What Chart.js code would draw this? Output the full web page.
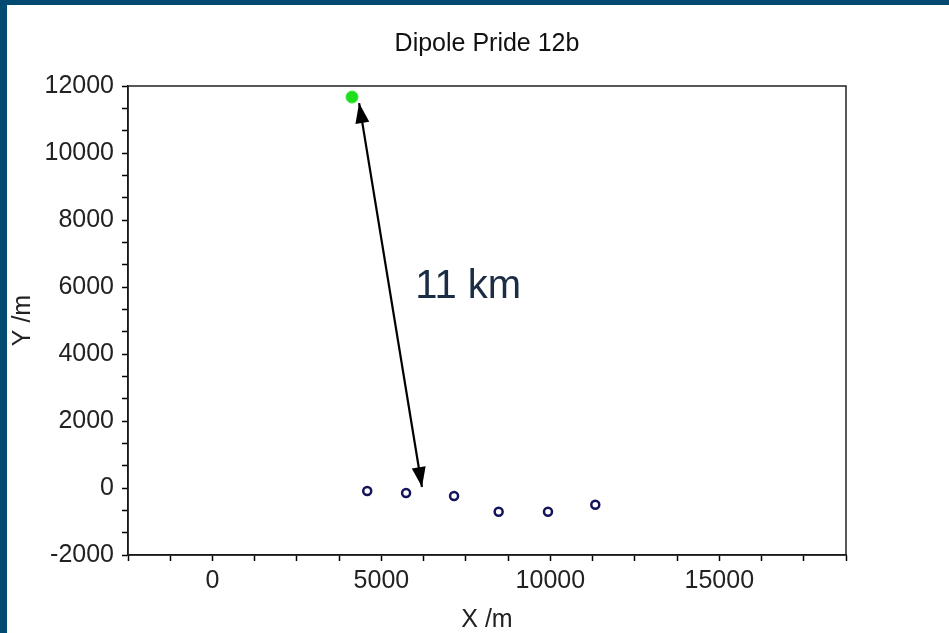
<!DOCTYPE html>
<html>
<head>
<meta charset="utf-8">
<title>Dipole Pride 12b</title>
<script src="https://cdn.jsdelivr.net/npm/chart.js@4.4.0/dist/chart.umd.min.js"></script>
<style>
  html, body { margin: 0; padding: 0; background: #014b73; overflow: hidden; }
  #frame { position: absolute; left: 7px; top: 5px; width: 942px; height: 628px; background: #fff; }
</style>
</head>
<body>
<div id="frame"><canvas id="dipoleChart"></canvas></div>
<script>
// chart text
const chartTitle = 'Dipole Pride 12b';
const xLabel = 'X /m';
const yLabel = 'Y /m';

// axis ranges (metres)
const xMin = -2500, xMax = 18750;
const yMin = -2000, yMax = 12000;

// source position (green dot)
const sourceX = [4130];
const sourceY = [11670];

// receiver positions (open markers)
const receiverX = [4580, 5730, 7150, 8470, 9930, 11330];
const receiverY = [-90, -150, -240, -710, -710, -500];

// distance arrow and its note
const arrowX = [4340, 6200];
const arrowY = [11490, 30];
const noteText = '11 km';
const noteX = 6000;
const noteY = 5670;

const fontFamily = "'Liberation Sans', Arial, sans-serif";
const axisFont = { family: fontFamily, size: 25, lineHeight: 1 };

function toPoints(xs, ys) {
  return xs.map((x, i) => ({ x: x, y: ys[i] }));
}

function drawHead(ctx, from, to) {
  const ang = Math.atan2(to.y - from.y, to.x - from.x);
  const len = 20, half = 7;
  ctx.beginPath();
  ctx.moveTo(to.x, to.y);
  ctx.lineTo(to.x - len * Math.cos(ang) + half * Math.sin(ang), to.y - len * Math.sin(ang) - half * Math.cos(ang));
  ctx.lineTo(to.x - len * Math.cos(ang) - half * Math.sin(ang), to.y - len * Math.sin(ang) + half * Math.cos(ang));
  ctx.closePath();
  ctx.fill();
}

const plotExtras = {
  id: 'plotExtras',
  beforeDatasetsDraw(chart) {
    const { ctx, chartArea: a } = chart;
    ctx.save();
    ctx.strokeStyle = '#222';
    ctx.lineWidth = 1.5;
    ctx.strokeRect(a.left, a.top, a.right - a.left, a.bottom - a.top);
    // title centred over the plot box
    ctx.fillStyle = '#111';
    ctx.font = '25px ' + fontFamily;
    ctx.textAlign = 'center';
    ctx.textBaseline = 'middle';
    ctx.fillText(chartTitle, (a.left + a.right) / 2, 39);
    ctx.restore();
  },
  afterDatasetsDraw(chart) {
    const ctx = chart.ctx;
    const pts = chart.getDatasetMeta(0).data;
    ctx.save();
    ctx.fillStyle = '#000';
    drawHead(ctx, pts[1], pts[0]);
    drawHead(ctx, pts[0], pts[1]);
    // distance note
    ctx.fillStyle = '#1b2d44';
    ctx.font = '40px ' + fontFamily;
    ctx.textBaseline = 'alphabetic';
    ctx.fillText(noteText, chart.scales.x.getPixelForValue(noteX), chart.scales.y.getPixelForValue(noteY));
    ctx.restore();
  }
};

new Chart(document.getElementById('dipoleChart'), {
  type: 'scatter',
  data: {
    datasets: [
      {
        label: 'distance',
        data: toPoints(arrowX, arrowY),
        showLine: true,
        borderColor: '#000',
        borderWidth: 2.2,
        pointRadius: 0
      },
      {
        label: 'source',
        data: toPoints(sourceX, sourceY),
        pointRadius: 6,
        backgroundColor: '#1ede1e',
        borderColor: '#3be63b',
        borderWidth: 1
      },
      {
        label: 'receivers',
        data: toPoints(receiverX, receiverY),
        pointRadius: 4,
        backgroundColor: '#fff',
        borderColor: '#14145a',
        borderWidth: 2.5
      }
    ]
  },
  options: {
    responsive: true,
    maintainAspectRatio: false,
    animation: false,
    layout: { padding: { left: 0, right: 103, top: 81, bottom: 0 } },
    plugins: {
      legend: { display: false },
      tooltip: { enabled: false },
      title: { display: false }
    },
    scales: {
      x: {
        type: 'linear',
        min: xMin,
        max: xMax,
        ticks: {
          stepSize: 1250,
          autoSkip: false,
          maxRotation: 0,
          color: '#222',
          font: axisFont,
          padding: 8,
          callback: v => (v % 5000 === 0 ? String(v) : '')
        },
        grid: { drawOnChartArea: false, color: '#000', tickLength: 6, tickWidth: 1.5 },
        border: { color: '#000', width: 1.5 },
        title: { display: true, text: xLabel, color: '#222', font: axisFont, padding: { top: 0, bottom: 0 } },
        afterFit(s) { s.height = 78; }
      },
      y: {
        type: 'linear',
        min: yMin,
        max: yMax,
        ticks: {
          stepSize: 2000 / 3,
          autoSkip: false,
          color: '#222',
          font: axisFont,
          padding: 8,
          callback: v => (Math.abs(v / 2000 - Math.round(v / 2000)) < 1e-6 ? String(Math.round(v)) : '')
        },
        grid: { drawOnChartArea: false, color: '#000', tickLength: 6, tickWidth: 1.5 },
        border: { color: '#000', width: 1.5 },
        title: { display: true, text: yLabel, color: '#222', font: axisFont, padding: { top: 4, bottom: 4 } },
        afterFit(s) { s.width = 121; }
      }
    }
  },
  plugins: [plotExtras]
});
</script>
</body>
</html>
